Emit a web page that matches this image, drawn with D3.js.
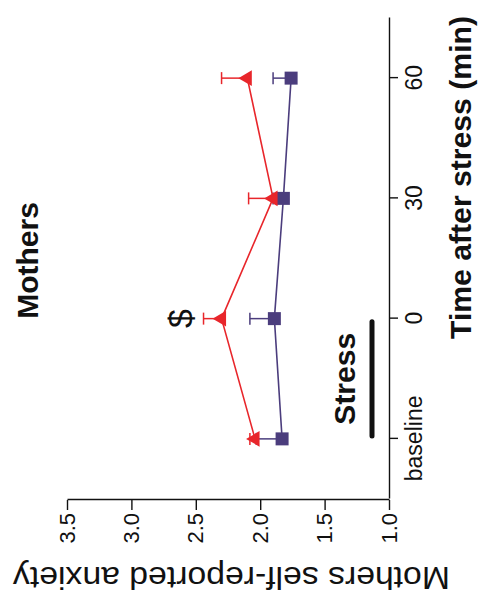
<!DOCTYPE html>
<html><head><meta charset="utf-8">
<script src="https://cdn.jsdelivr.net/npm/d3@7"></script>
<style>
html,body{margin:0;padding:0;background:#fff;}
svg{display:block;}
text{font-family:"Liberation Sans",Arial,Helvetica,sans-serif;}
</style></head>
<body>
<svg id="chart" width="485" height="596"></svg>
<script>
// ---- data ----
const timeLabels = ["baseline", "0", "30", "60"];
const yTicks = [1.0, 1.5, 2.0, 2.5, 3.0, 3.5];
const redMeans = [2.04, 2.30, 1.90, 2.10];
const redSE = [0.04, 0.14, 0.19, 0.20];
const purpleMeans = [1.83, 1.89, 1.82, 1.76];
const purpleSE = [0.20, 0.19, 0.08, 0.14];
const stressSpan = [0, 1];
const sigMarks = [{index: 1, label: "$"}];

// ---- layout (chart drawn upright, then turned 90° counter-clockwise) ----
const W = 596, H = 485;
const red = "#e8262b", purple = "#4b3d7d";

const svg = d3.select("#chart");
const g = svg.append("g").attr("transform", `translate(0,${W}) rotate(-90)`);

const x = d3.scaleLinear().domain([-0.5, 3.5]).range([97, 578]);
const y = d3.scaleLinear().domain([1.0, 3.5]).range([389, 67]);

// y axis
const yAx = g.append("g").attr("transform", "translate(96,0)")
  .call(d3.axisLeft(y).tickValues(yTicks).tickFormat(d3.format(".1f"))
    .tickSize(10).tickSizeOuter(0).tickPadding(3));
yAx.selectAll("text").attr("font-size", 22).attr("fill", "#111")
  .attr("font-family", '"Liberation Sans",Arial,sans-serif');
yAx.selectAll("line,path").attr("stroke", "#111").attr("stroke-width", 1.4);

// x axis
const xAx = g.append("g").attr("transform", "translate(0,389)")
  .call(d3.axisBottom(x).tickValues([0, 1, 2, 3]).tickFormat(i => timeLabels[i])
    .tickSize(9).tickSizeOuter(0));
xAx.selectAll("text").attr("font-size", 23).attr("fill", "#111").attr("y", 33).attr("dy", 0)
  .attr("font-family", '"Liberation Sans",Arial,sans-serif');
xAx.selectAll("line,path").attr("stroke", "#111").attr("stroke-width", 1.4);

// axis titles
g.append("text").attr("transform", "translate(29,231.5) rotate(-90)")
  .attr("text-anchor", "middle").attr("font-size", 32).attr("fill", "#111")
  .attr("textLength", 437).attr("lengthAdjust", "spacingAndGlyphs")
  .text("Mothers self-reported anxiety");

g.append("text").attr("x", 257).attr("y", 471)
  .attr("text-anchor", "start").attr("font-size", 30).attr("font-weight", "bold").attr("fill", "#111")
  .attr("textLength", 323).attr("lengthAdjust", "spacingAndGlyphs")
  .text("Time after stress (min)");

g.append("text").attr("x", (x(-0.5) + x(3.5)) / 2 - 2).attr("y", 38)
  .attr("text-anchor", "middle").attr("font-size", 30).attr("font-weight", "bold").attr("fill", "#111")
  .text("Mothers");

// stress bar + label
g.append("line").attr("x1", x(stressSpan[0]) + 3).attr("x2", x(stressSpan[1]) - 3)
  .attr("y1", 372).attr("y2", 372).attr("stroke", "#111").attr("stroke-width", 5)
  .attr("stroke-linecap", "round");
g.append("text").attr("x", (x(stressSpan[0]) + x(stressSpan[1])) / 2).attr("y", 355)
  .attr("text-anchor", "middle").attr("font-size", 30).attr("font-weight", "bold").attr("fill", "#111")
  .text("Stress");

// series
function drawSeries(means, se, color, symbolType, size) {
  const sg = g.append("g");
  const pts = means.map((m, i) => ({i, m, s: se[i]}));
  // error bars (upward only)
  sg.selectAll("line.eb").data(pts).enter().append("line")
    .attr("x1", d => x(d.i)).attr("x2", d => x(d.i))
    .attr("y1", d => y(d.m)).attr("y2", d => y(d.m + d.s))
    .attr("stroke", color).attr("stroke-width", 1.5);
  sg.selectAll("line.cap").data(pts).enter().append("line")
    .attr("x1", d => x(d.i) - 6).attr("x2", d => x(d.i) + 6)
    .attr("y1", d => y(d.m + d.s)).attr("y2", d => y(d.m + d.s))
    .attr("stroke", color).attr("stroke-width", 1.5);
  sg.append("path").datum(pts)
    .attr("d", d3.line().x(d => x(d.i)).y(d => y(d.m)))
    .attr("fill", "none").attr("stroke", color).attr("stroke-width", 1.6);
  sg.selectAll("path.sym").data(pts).enter().append("path")
    .attr("transform", d => `translate(${x(d.i)},${y(d.m)})`)
    .attr("d", d3.symbol().type(symbolType).size(size))
    .attr("fill", color);
}
drawSeries(purpleMeans, purpleSE, purple, d3.symbolSquare, 169);
drawSeries(redMeans, redSE, red, d3.symbolTriangle, 105);

// significance marks
g.selectAll("text.sig").data(sigMarks).enter().append("text")
  .attr("x", d => x(d.index)).attr("y", 192)
  .attr("text-anchor", "middle").attr("font-size", 34).attr("fill", "#111")
  .text(d => d.label);
</script>
</body></html>
